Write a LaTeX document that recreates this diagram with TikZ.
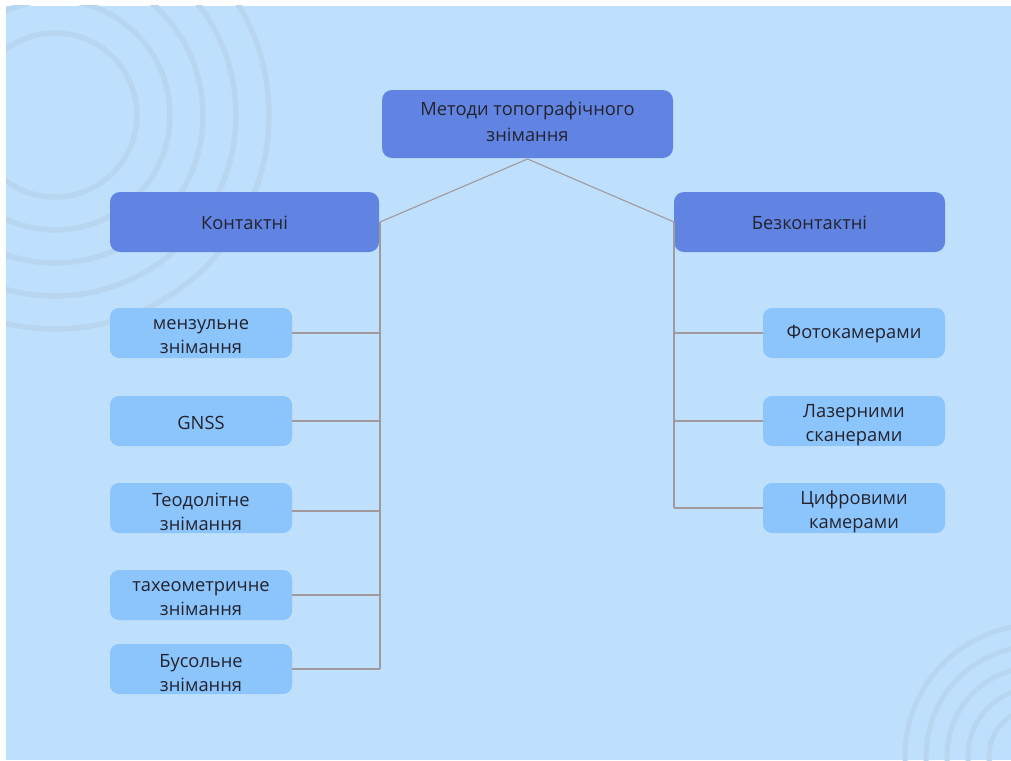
\documentclass[tikz,border=0pt]{standalone}
\usepackage{fontspec}
\setmainfont{Open Sans}
\definecolor{bgblue}{RGB}{191,224,253}
\definecolor{ringc}{RGB}{184,214,239}
\definecolor{darkbox}{RGB}{97,132,226}
\definecolor{lightbox}{RGB}{140,196,252}
\definecolor{linec}{RGB}{160,154,156}
\definecolor{txt}{RGB}{35,35,45}
\begin{document}
\begin{tikzpicture}[x=1pt,y=-1pt,
  every node/.style={inner sep=0pt,outer sep=0pt},
  lbl/.style={text=txt,font=\fontsize{18.3}{24}\selectfont,align=center},
  toplbl/.style={text=txt,font=\fontsize{18.3}{26}\selectfont,align=center},
  mainbox/.style={fill=darkbox,rounded corners=10pt},
  subbox/.style={fill=lightbox,rounded corners=9pt,minimum width=182pt,minimum height=50pt},
  conn/.style={draw=linec,line width=1.1pt}]
\useasboundingbox (0,0) rectangle (1011,760);
\fill[white] (0,0) rectangle (1011,760);
\fill[bgblue] (6,6) rectangle (1011,760);
\begin{scope}
\clip (6,6) rectangle (1011,760);
\foreach \r in {82,115,148,181,214} \draw[ringc,line width=5.5pt] (55,115) circle[radius=\r];
\foreach \r in {47,68,89,110,131} \draw[ringc,line width=5pt] (1036,756) circle[radius=\r];
\end{scope}
% main boxes
\node[mainbox,minimum width=291pt,minimum height=68pt] (top) at (527.5,124) {};
\node[toplbl] (topt) at ([yshift=2pt]top.center) {Методи топографічного\\знімання};
\node[mainbox,minimum width=269pt,minimum height=60pt] (kont) at (244.5,222) {};
\node[lbl] (kontt) at ([yshift=-1pt]kont.center) {Контактні};
\node[mainbox,minimum width=271pt,minimum height=60pt] (bkont) at (809.5,222) {};
\node[lbl] (bkontt) at ([yshift=-1pt]bkont.center) {Безконтактні};
% left children
\node[subbox] (l1) at (201,333) {};
\node[lbl] (l1t) at ([yshift=-4pt]l1.center) {мензульне\\знімання};
\node[subbox] (l2) at (201,421) {};
\node[lbl] (l2t) at ([yshift=-1.5pt]l2.center) {GNSS};
\node[subbox] (l3) at (201,508) {};
\node[lbl] (l3t) at ([yshift=-4pt]l3.center) {Теодолітне\\знімання};
\node[subbox] (l4) at (201,595) {};
\node[lbl] (l4t) at ([yshift=-4pt]l4.center) {тахеометричне\\знімання};
\node[subbox] (l5) at (201,669) {};
\node[lbl] (l5t) at ([yshift=-4pt]l5.center) {Бусольне\\знімання};
% right children
\node[subbox] (r1) at (854,333) {};
\node[lbl] (r1t) at ([yshift=-1.5pt]r1.center) {Фотокамерами};
\node[subbox] (r2) at (854,421) {};
\node[lbl] (r2t) at ([yshift=-4pt]r2.center) {Лазерними\\сканерами};
\node[subbox] (r3) at (854,508) {};
\node[lbl] (r3t) at ([yshift=-4pt]r3.center) {Цифровими\\камерами};
% connector points
\coordinate (apex) at (527.5,159);
\coordinate (kc) at (380,222);
\coordinate (bc) at (674,222);
\coordinate (kend) at (380,669);
\coordinate (bend) at (674,508);
\draw[conn] (kc) -- (apex) -- (bc);
\draw[conn] (kc) -- (kend);
\draw[conn] (bc) -- (bend);
\draw[conn] (l1.east) -- (l1.east -| kc);
\draw[conn] (l2.east) -- (l2.east -| kc);
\draw[conn] ([yshift=-3pt]l3.east) -- ([yshift=-3pt]l3.east -| kc);
\draw[conn] (l4.east) -- (l4.east -| kc);
\draw[conn] (l5.east) -- (l5.east -| kc);
\draw[conn] (r1.west) -- (r1.west -| bc);
\draw[conn] (r2.west) -- (r2.west -| bc);
\draw[conn] (r3.west) -- (r3.west -| bc);
\end{tikzpicture}
\end{document}
